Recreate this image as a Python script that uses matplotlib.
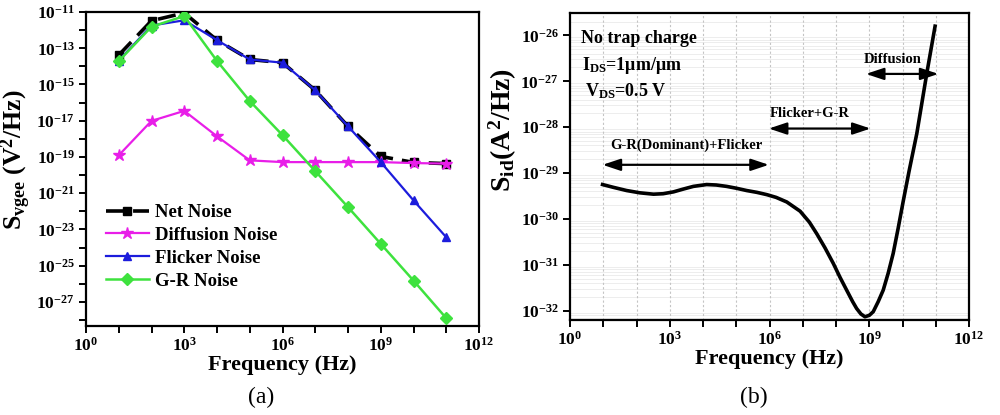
import matplotlib
matplotlib.use("Agg")
import matplotlib.pyplot as plt
import numpy as np

# ---------------- data (panel a) ----------------
freq_a = [1e1, 1e2, 1e3, 1e4, 1e5, 1e6, 1e7, 1e8, 1e9, 1e10, 1e11]
net_noise = [4.2e-14, 3.3e-12, 8.9e-12, 2.8e-13, 2.4e-14, 1.6e-14, 4.8e-16, 4.9e-18, 1.07e-19, 5.0e-20, 4.3e-20]
diffusion_noise = [1.23e-19, 9.8e-18, 3.5e-17, 1.38e-18, 6.5e-20, 5.2e-20, 5.2e-20, 5.2e-20, 5.2e-20, 4.6e-20, 4.3e-20]
flicker_noise = [2.1e-14, 1.8e-12, 3.5e-12, 2.8e-13, 2.4e-14, 1.6e-14, 4.8e-16, 4.9e-18, 5.2e-20, 4.0e-22, 3.7e-24]
gr_noise = [1.95e-14, 1.55e-12, 6.0e-12, 2.0e-14, 1.23e-16, 1.6e-18, 1.66e-20, 1.7e-22, 1.6e-24, 1.5e-26, 1.26e-28]
legend_labels = ["Net Noise", "Diffusion Noise", "Flicker Noise", "G-R Noise"]

# ---------------- data (panel b) : log10 values ----------------
sid_log_freq = [0.98, 1.3, 1.7, 2.1, 2.51, 2.8, 3.11, 3.4, 3.71, 4.11, 4.4, 4.71, 5.0, 5.31,
                5.62, 5.92, 6.2, 6.52, 6.92, 7.2, 7.42, 7.67, 7.92, 8.12, 8.32, 8.5, 8.62,
                8.75, 8.87, 9.0, 9.12, 9.27, 9.42, 9.57, 9.72, 9.87, 10.02, 10.2, 10.43,
                10.73, 10.98]
sid_log_psd = [-29.25, -29.31, -29.38, -29.43, -29.46, -29.45, -29.41, -29.35, -29.29, -29.25,
               -29.26, -29.29, -29.33, -29.38, -29.42, -29.47, -29.53, -29.63, -29.83, -30.07,
               -30.32, -30.63, -30.97, -31.27, -31.55, -31.8, -31.95, -32.07, -32.13, -32.1,
               -32.02, -31.8, -31.55, -31.18, -30.75, -30.2, -29.62, -28.95, -28.14, -26.83,
               -25.80]

x_tick_exps = list(range(0, 13))
ya_tick_exps = list(range(-28, -10))
yb_tick_exps = list(range(-32, -25))

plt.rcParams["font.family"] = ["Liberation Serif", "DejaVu Serif"]
plt.rcParams["font.weight"] = "bold"
plt.rcParams["mathtext.fontset"] = "custom"
plt.rcParams["mathtext.rm"] = "Liberation Serif:bold"
plt.rcParams["mathtext.bf"] = "Liberation Serif:bold"
plt.rcParams["mathtext.it"] = "Liberation Serif:bold"
plt.rcParams["mathtext.default"] = "bf"

fig = plt.figure(figsize=(10, 4.15), dpi=100)
axA = fig.add_axes([0.086, 0.2145, 0.393, 0.7565])
axB = fig.add_axes([0.570, 0.229, 0.399, 0.740])


def exp_label(e):
    return r"$\mathdefault{10^{%d}}$" % e


def style_axes(ax):
    for s in ax.spines.values():
        s.set_linewidth(1.6)
    ax.tick_params(which="both", direction="out", width=1.4, length=5, labelsize=12.5,
                   top=False, right=False, pad=3)
    ax.minorticks_off()


# ---------------- panel a ----------------
axA.set_xscale("log")
axA.set_yscale("log")
axA.plot(freq_a, net_noise, color="black", ls=(0, (5, 2.5)), lw=2.6, marker="s", ms=6,
         label=legend_labels[0], zorder=2)
axA.plot(freq_a, diffusion_noise, color="#e81ee8", lw=1.6, marker="*", ms=9,
         label=legend_labels[1], zorder=3)
axA.plot(freq_a, flicker_noise, color="#1c1cdc", lw=1.6, marker="^", ms=5.5,
         label=legend_labels[2], zorder=4)
axA.plot(freq_a, gr_noise, color="#3ee23e", lw=1.8, marker="D", ms=6.5,
         label=legend_labels[3], zorder=5)
axA.set_xlim(1e0, 1e12)
axA.set_ylim(10 ** -28.33, 1e-11)
style_axes(axA)
axA.set_xticks([10.0 ** e for e in x_tick_exps])
axA.set_xticklabels([exp_label(e) if e % 3 == 0 else "" for e in x_tick_exps])
axA.set_yticks([10.0 ** e for e in ya_tick_exps])
axA.set_yticklabels([exp_label(e) if e % 2 != 0 else "" for e in ya_tick_exps])
axA.minorticks_off()
axA.set_xlabel("Frequency (Hz)", fontsize=16, fontweight="bold", labelpad=0)
axA.set_ylabel(r"S$_{vgee}$ (V$^{2}$/Hz)", fontsize=18.5, fontweight="bold", va="center")
axA.yaxis.set_label_coords(-0.18, 0.53)
leg = axA.legend(loc="center left", bbox_to_anchor=(0.05, 0.252), frameon=False,
                 fontsize=13.5, handlelength=2.3, handletextpad=0.35, labelspacing=0.3,
                 borderpad=0, borderaxespad=0)

# ---------------- panel b ----------------
sid_f = [10.0 ** v for v in sid_log_freq]
sid_s = [10.0 ** v for v in sid_log_psd]
axB.set_xscale("log")
axB.set_yscale("log")
axB.plot(sid_f, sid_s, color="black", lw=2.6, zorder=3, solid_joinstyle="round")
axB.set_xlim(1e0, 1e12)
axB.set_ylim(10 ** -32.2, 10 ** -25.51)
style_axes(axB)
axB.set_xticks([10.0 ** e for e in x_tick_exps])
axB.set_xticklabels([exp_label(e) if e % 3 == 0 else "" for e in x_tick_exps])
axB.set_yticks([10.0 ** e for e in yb_tick_exps])
axB.set_yticklabels([exp_label(e) for e in yb_tick_exps])
axB.minorticks_off()
for e in x_tick_exps[1:-1]:
    axB.axvline(10.0 ** e, color="#c4c4c4", lw=0.8, ls=(0, (2, 2)), zorder=1)
for e in range(-33, -25):
    for m in range(2, 10):
        yv = m * 10.0 ** e
        axB.axhline(yv, color="#ededed", lw=0.7, zorder=0)
axB.set_xlabel("Frequency (Hz)", fontsize=16, fontweight="bold", labelpad=0)
axB.set_ylabel(r"S$_{id}$(A$^{2}$/Hz)", fontsize=20, fontweight="bold", va="center")
axB.yaxis.set_label_coords(-0.168, 0.62)

arrow_kw = dict(arrowstyle="<|-|>,head_length=0.9,head_width=0.3", color="black", lw=1.6,
                mutation_scale=12, shrinkA=0, shrinkB=0)
axB.annotate("", xy=(10 ** 0.98, 10 ** -28.82), xytext=(10 ** 5.98, 10 ** -28.82),
             arrowprops=arrow_kw)
axB.annotate("", xy=(10 ** 5.98, 10 ** -28.03), xytext=(10 ** 9.04, 10 ** -28.03),
             arrowprops=arrow_kw)
axB.annotate("", xy=(10 ** 8.9, 10 ** -26.84), xytext=(10 ** 11.08, 10 ** -26.84),
             arrowprops=arrow_kw)
axB.text(10 ** 3.51, 10 ** -28.4, "G-R(Dominant)+Flicker", ha="center", va="center",
         fontsize=10.5, fontweight="bold")
axB.text(10 ** 7.22, 10 ** -27.70, "Flicker+G-R", ha="center", va="center",
         fontsize=10.5, fontweight="bold")
axB.text(10 ** 9.71, 10 ** -26.52, "Diffusion", ha="center", va="center",
         fontsize=10.5, fontweight="bold")
axB.text(10 ** 0.32, 10 ** -26.07, "No trap charge", ha="left", va="center",
         fontsize=13, fontweight="bold")
axB.text(10 ** 0.35, 10 ** -26.65, r"I$_{DS}$=1μm/μm", ha="left", va="center",
         fontsize=13, fontweight="bold")
axB.text(10 ** 0.45, 10 ** -27.22, r"V$_{DS}$=0.5 V", ha="left", va="center",
         fontsize=13, fontweight="bold")

fig.text(0.261, 1 - 397 / 415, "(a)", ha="center", va="center", fontsize=17,
         fontweight="normal")
fig.text(0.754, 1 - 397 / 415, "(b)", ha="center", va="center", fontsize=17,
         fontweight="normal")

fig.savefig("out.png", dpi=100)
